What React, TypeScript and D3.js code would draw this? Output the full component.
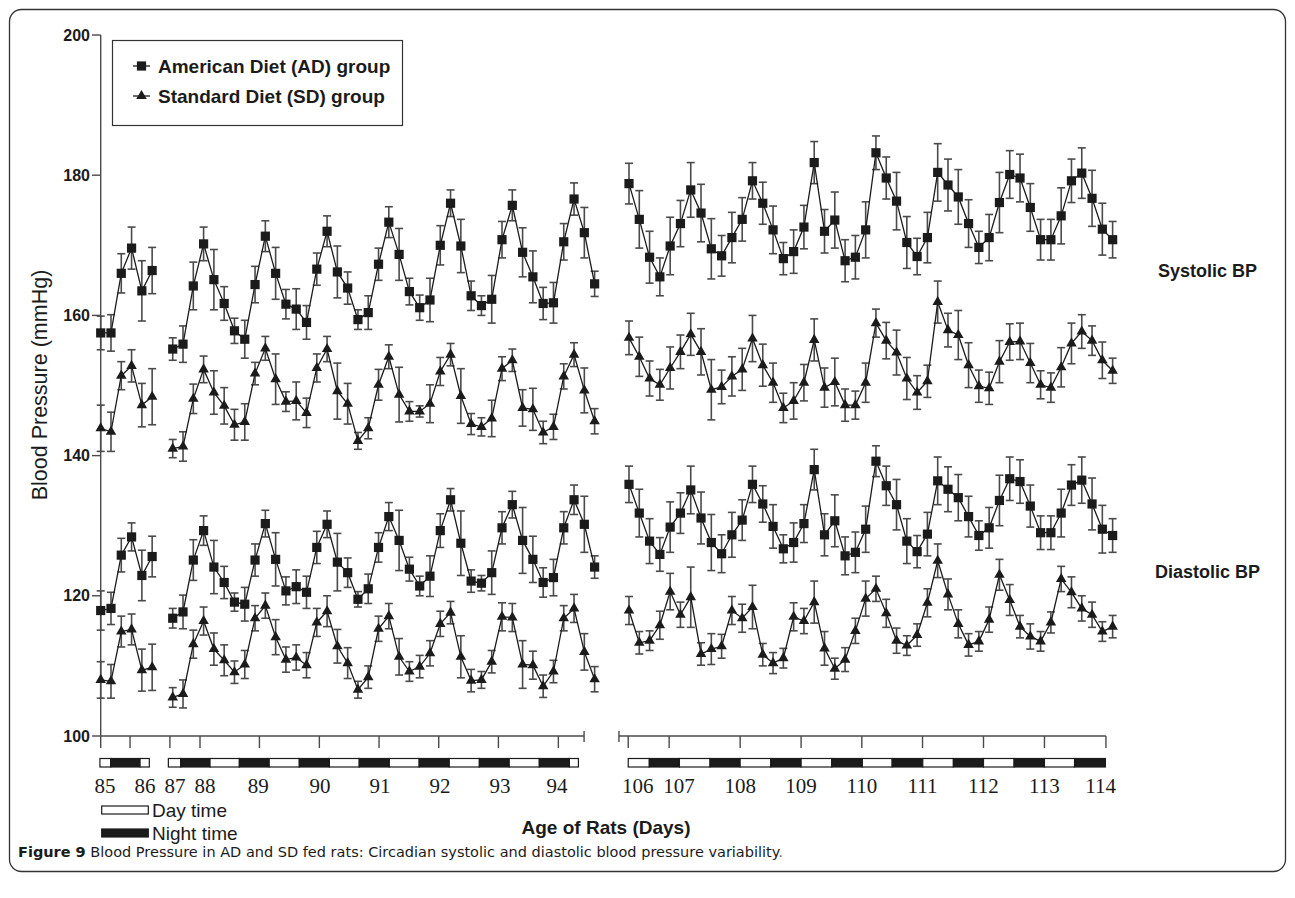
import * as d3 from 'd3'

// one reading every 4 hours; x positions are hours since the first reading of a panel
const STEP_H = 4

// ---------- left panel: days 85-86 (readings 0-5) and 87-94 (readings 7-48) ----------
const adSys85 = [157.5, 157.5, 166.0, 169.6, 163.5, 166.4]
const adSys85Err = [2.4, 2.6, 2.8, 3.0, 4.3, 3.3]
const sdSys85 = [143.9, 143.4, 151.4, 152.8, 147.2, 148.4]
const sdSys85Err = [3.3, 2.8, 2.0, 2.3, 3.1, 4.0]
const adDia85 = [117.9, 118.2, 125.8, 128.4, 122.9, 125.6]
const adDia85Err = [2.8, 2.3, 2.4, 2.0, 3.6, 2.9]
const sdDia85 = [108.0, 107.8, 114.9, 115.2, 109.4, 109.8]
const sdDia85Err = [2.6, 2.4, 2.2, 2.2, 3.0, 3.3]

const adSys87 = [155.2, 155.9, 164.2, 170.2, 165.1, 161.7, 157.8, 156.6, 164.4, 171.3, 166.0, 161.6, 160.9, 159.0,
  166.6, 172.0, 166.2, 163.9, 159.4, 160.4, 167.3, 173.3, 168.7, 163.4, 161.1, 162.2, 170.0, 176.0, 169.9, 162.8,
  161.4, 162.3, 170.8, 175.7, 169.0, 165.5, 161.7, 161.8, 170.5, 176.6, 171.8, 164.5]
const adSys87Err = [1.6, 2.6, 3.4, 2.4, 4.3, 2.4, 1.8, 2.7, 2.6, 2.2, 3.7, 2.1, 2.9, 2.4, 2.3, 2.2, 3.7, 2.3, 1.4, 2.4,
  2.3, 2.2, 3.7, 1.9, 1.8, 3.1, 2.8, 1.9, 3.8, 2.1, 1.4, 3.4, 2.6, 2.2, 3.5, 3.7, 2.3, 2.9, 2.6, 2.3, 3.6, 1.8]
const sdSys87 = [141.0, 141.3, 148.1, 152.3, 149.0, 147.1, 144.4, 144.8, 151.7, 155.3, 150.9, 147.7, 147.8, 146.1,
  152.5, 155.2, 149.2, 147.4, 142.1, 143.9, 150.1, 154.1, 148.7, 146.3, 146.3, 147.4, 152.0, 154.4, 148.5, 144.5,
  144.1, 145.3, 152.4, 153.6, 146.8, 146.6, 143.3, 144.1, 151.3, 154.4, 149.3, 144.9]
const sdSys87Err = [1.3, 2.1, 2.1, 1.9, 3.1, 2.6, 2.2, 2.6, 1.6, 1.7, 3.6, 1.4, 2.7, 2.1, 2.0, 1.8, 4.0, 2.9, 1.2, 1.5,
  2.2, 1.7, 3.9, 1.4, 0.8, 2.7, 2.0, 1.6, 3.9, 1.5, 1.3, 2.6, 1.7, 1.6, 2.6, 3.0, 1.6, 1.8, 1.8, 1.7, 3.2, 1.8]
const adDia87 = [116.8, 117.7, 125.1, 129.3, 124.1, 121.9, 119.1, 118.8, 125.1, 130.3, 125.2, 120.7, 121.3, 120.5,
  126.9, 130.2, 124.8, 123.3, 119.5, 121.0, 126.9, 131.3, 127.9, 123.8, 121.4, 122.8, 129.3, 133.7, 127.5, 122.1,
  121.8, 123.3, 129.7, 133.0, 127.9, 125.2, 121.9, 122.6, 129.7, 133.7, 130.2, 124.1]
const adDia87Err = [1.4, 2.4, 2.9, 2.1, 3.8, 2.3, 1.3, 2.4, 2.3, 1.9, 3.8, 2.0, 2.4, 2.3, 2.3, 1.9, 4.1, 2.1, 1.1, 2.1,
  2.1, 2.0, 4.3, 1.7, 1.4, 2.9, 2.4, 1.6, 4.6, 1.6, 1.1, 3.1, 2.3, 1.9, 4.7, 3.3, 2.1, 2.6, 2.3, 2.1, 4.0, 1.6]
const sdDia87 = [105.5, 106.0, 113.1, 116.4, 112.4, 110.8, 109.1, 110.2, 116.8, 118.6, 114.1, 110.9, 111.2, 110.1,
  116.2, 117.8, 112.8, 110.4, 106.6, 108.4, 115.3, 117.1, 111.3, 109.2, 109.9, 111.8, 116.0, 117.6, 111.3, 107.9,
  108.0, 110.6, 117.0, 116.9, 110.2, 110.1, 107.1, 109.2, 116.8, 118.2, 112.0, 108.1]
const sdDia87Err = [1.4, 2.0, 2.0, 2.0, 2.3, 2.2, 1.6, 2.0, 1.8, 1.8, 2.5, 1.8, 1.8, 1.8, 2.0, 2.2, 2.4, 2.2, 1.2, 1.6,
  1.8, 1.8, 2.6, 1.4, 1.6, 1.8, 1.8, 1.6, 3.0, 1.6, 1.2, 1.6, 2.0, 2.0, 3.4, 2.0, 1.6, 1.6, 1.8, 2.0, 2.6, 1.8]

// ---------- right panel: days 106-114 (readings 0-47) ----------
const adSys106 = [178.8, 173.7, 168.3, 165.5, 169.9, 173.1, 177.9, 174.6, 169.5, 168.5, 171.1, 173.7, 179.2, 176.0,
  172.2, 168.1, 169.1, 172.6, 181.8, 172.0, 173.6, 167.8, 168.3, 172.2, 183.2, 179.6, 176.3, 170.4, 168.4, 171.1,
  180.4, 178.6, 176.9, 173.1, 169.7, 171.1, 176.1, 180.1, 179.6, 175.4, 170.8, 170.8, 174.2, 179.2, 180.3, 176.7,
  172.3, 170.8]
const adSys106Err = [2.9, 4.1, 3.7, 2.7, 4.1, 3.3, 3.9, 4.1, 4.3, 2.9, 3.6, 3.1, 2.6, 3.0, 3.4, 2.3, 3.1, 3.1, 3.0, 3.1,
  4.0, 3.0, 3.1, 4.0, 2.4, 3.0, 4.1, 3.7, 2.6, 3.6, 4.1, 3.7, 3.9, 3.4, 2.3, 3.3, 4.3, 3.4, 3.4, 3.4, 2.9, 2.9, 4.0,
  3.1, 3.6, 4.0, 3.7, 2.6]
const sdSys106 = [156.8, 154.1, 151.0, 150.1, 152.5, 154.8, 157.3, 154.8, 149.4, 149.8, 151.3, 152.3, 156.7, 152.9,
  150.4, 146.8, 147.8, 150.4, 156.5, 149.7, 150.5, 147.2, 147.2, 150.4, 158.9, 156.4, 154.7, 151.0, 149.0, 150.6,
  161.9, 157.9, 157.2, 152.9, 149.9, 149.6, 153.4, 156.2, 156.3, 153.2, 150.1, 149.7, 152.6, 156.0, 157.7, 156.4,
  153.6, 152.1]
const sdSys106Err = [2.4, 2.8, 2.5, 2.2, 3.0, 2.4, 3.0, 3.3, 4.3, 2.4, 2.8, 3.0, 3.3, 3.0, 2.8, 2.1, 2.6, 2.6, 3.0, 2.8,
  3.4, 2.3, 2.0, 2.8, 2.0, 2.6, 3.2, 3.0, 2.4, 2.3, 3.0, 2.4, 3.5, 3.2, 2.3, 2.3, 3.0, 2.6, 2.6, 2.8, 2.0, 2.1, 2.8,
  2.9, 2.4, 2.1, 2.6, 1.8]
const adDia106 = [135.9, 131.8, 127.8, 125.9, 129.8, 131.8, 135.1, 131.1, 127.6, 126.0, 128.7, 130.8, 135.9, 133.1,
  129.9, 126.7, 127.6, 130.3, 138.0, 128.7, 130.7, 125.7, 126.2, 129.5, 139.2, 135.7, 133.0, 127.8, 126.3, 128.8,
  136.4, 135.2, 134.0, 131.3, 128.6, 129.7, 133.6, 136.7, 136.3, 132.8, 129.0, 129.0, 131.8, 135.8, 136.5, 133.1,
  129.5, 128.6]
const adDia106Err = [2.6, 3.4, 3.2, 2.4, 3.6, 2.9, 3.4, 3.7, 4.0, 2.7, 3.2, 2.9, 2.6, 2.6, 3.1, 2.0, 2.8, 2.7, 2.9, 3.0,
  3.7, 2.7, 2.9, 3.3, 2.2, 2.8, 3.6, 3.2, 2.3, 3.1, 3.4, 3.2, 3.3, 2.9, 2.1, 2.9, 3.6, 3.1, 3.1, 3.0, 2.4, 2.4, 3.4,
  2.9, 3.3, 3.7, 3.4, 2.4]
const sdDia106 = [117.9, 113.3, 113.6, 115.8, 120.6, 117.3, 119.8, 111.7, 112.4, 112.8, 117.9, 116.8, 118.4, 111.6,
  110.4, 111.1, 117.0, 116.4, 119.1, 112.5, 109.6, 110.9, 115.0, 119.6, 121.0, 117.5, 113.6, 112.9, 114.4, 119.0,
  125.0, 120.2, 116.0, 113.0, 113.5, 116.6, 123.0, 119.4, 115.6, 114.2, 113.5, 116.2, 122.4, 120.5, 118.2, 117.3,
  114.9, 115.6]
const sdDia106Err = [2.0, 1.6, 1.4, 2.0, 2.6, 1.8, 4.3, 1.6, 2.2, 1.7, 2.0, 2.0, 3.1, 1.6, 1.5, 1.4, 2.0, 1.8, 3.0, 2.4,
  1.5, 1.7, 1.8, 2.5, 1.8, 2.0, 1.8, 1.4, 1.6, 2.0, 2.4, 2.2, 2.0, 1.6, 1.4, 1.8, 2.2, 2.2, 1.6, 1.8, 1.4, 1.5, 1.8,
  2.2, 1.8, 1.8, 1.4, 1.6]

// ---------- x axis furniture (hours from the first reading of each panel) ----------
const leftTicks = [0, 11.4, 26.9, 38.6, 61.7, 85.0, 108.2, 131.4, 154.6, 177.9]
const leftLabels = ['85', '86', '87', '88', '89', '90', '91', '92', '93', '94']
const leftLabelAt = [1.7, 17.2, 28.9, 40.5, 61.2, 85.2, 108.6, 131.9, 155.2, 177.4]
const rightTicks = [-0.3, 15.6, 43.2, 66.9, 90.5, 114.1, 137.8, 161.5, 185.4]
const rightLabels = ['106', '107', '108', '109', '110', '111', '112', '113', '114']
const rightLabelAt = [3.4, 19.4, 43.2, 66.9, 90.5, 114.1, 137.8, 161.5, 183.3]

// day/night strip: block edges, first block is daytime, then alternating
const stripLeftA = [-0.3, 3.9, 15.3, 18.9]
const stripLeftB = [26.3, 31.1, 42.5, 53.9, 65.5, 77.2, 88.9, 100.5, 112.2, 123.8, 135.5, 147.2, 158.8, 170.5, 182.2, 185.7]
const stripRight = [-0.3, 7.9, 19.6, 31.5, 43.2, 55.1, 66.9, 78.8, 90.7, 102.3, 114.2, 126.1, 137.8, 149.7, 161.5, 173.2, 185.2]

const yTicks = [100, 120, 140, 160, 180, 200]

const INK = '#1b1b1b'
const BAR = '#4a4a4a'
const SANS = 'Liberation Sans, Arial, sans-serif'

const y = d3.scaleLinear().domain([100, 200]).range([736, 35])
const xLeft = d3.scaleLinear().domain([0, 192]).range([100.7, 100.7 + 192 * 2.5725])
const xRight = d3.scaleLinear().domain([0, 188]).range([629, 629 + 188 * 2.5725])

const triangle = d3.symbol().type(d3.symbolTriangle).size(48)()

type Track = { x: d3.ScaleLinear<number, number>; first: number; values: number[]; err: number[]; mark: 'sq' | 'tri' }

const tracks: Track[] = [
  { x: xLeft, first: 0, values: adSys85, err: adSys85Err, mark: 'sq' },
  { x: xLeft, first: 0, values: sdSys85, err: sdSys85Err, mark: 'tri' },
  { x: xLeft, first: 0, values: adDia85, err: adDia85Err, mark: 'sq' },
  { x: xLeft, first: 0, values: sdDia85, err: sdDia85Err, mark: 'tri' },
  { x: xLeft, first: 7, values: adSys87, err: adSys87Err, mark: 'sq' },
  { x: xLeft, first: 7, values: sdSys87, err: sdSys87Err, mark: 'tri' },
  { x: xLeft, first: 7, values: adDia87, err: adDia87Err, mark: 'sq' },
  { x: xLeft, first: 7, values: sdDia87, err: sdDia87Err, mark: 'tri' },
  { x: xRight, first: 0, values: adSys106, err: adSys106Err, mark: 'sq' },
  { x: xRight, first: 0, values: sdSys106, err: sdSys106Err, mark: 'tri' },
  { x: xRight, first: 0, values: adDia106, err: adDia106Err, mark: 'sq' },
  { x: xRight, first: 0, values: sdDia106, err: sdDia106Err, mark: 'tri' },
]

function Marker({ kind, cx, cy }: { kind: 'sq' | 'tri'; cx: number; cy: number }) {
  if (kind === 'sq') return <rect x={cx - 4.6} y={cy - 4.6} width={9.2} height={9.2} fill={INK} />
  return <path d={triangle} transform={`translate(${cx},${cy})`} fill={INK} />
}

function TrackView({ t }: { t: Track }) {
  const pts = t.values.map((v, i) => ({ h: (t.first + i) * STEP_H, v, e: t.err[i] }))
  const line = d3.line<{ h: number; v: number }>().x(d => t.x(d.h)).y(d => y(d.v))
  return (
    <g>
      {pts.map((p, i) => {
        const cx = t.x(p.h)
        return (
          <g key={i} stroke={BAR} strokeWidth={1.6}>
            <line x1={cx} x2={cx} y1={y(p.v - p.e)} y2={y(p.v + p.e)} />
            <line x1={cx - 4} x2={cx + 4} y1={y(p.v + p.e)} y2={y(p.v + p.e)} />
            <line x1={cx - 4} x2={cx + 4} y1={y(p.v - p.e)} y2={y(p.v - p.e)} />
          </g>
        )
      })}
      <path d={line(pts) ?? ''} fill="none" stroke={INK} strokeWidth={1.3} />
      {pts.map((p, i) => <Marker key={i} kind={t.mark} cx={t.x(p.h)} cy={y(p.v)} />)}
    </g>
  )
}

function Strip({ x, edges }: { x: d3.ScaleLinear<number, number>; edges: number[] }) {
  return (
    <g>
      {edges.slice(0, -1).map((e, i) => (
        <rect key={i} x={x(e)} y={758.5} width={x(edges[i + 1]) - x(e)} height={8.5}
          fill={i % 2 === 0 ? '#fff' : INK} stroke={INK} strokeWidth={1.2} />
      ))}
    </g>
  )
}

function XAxis({ x, from, to, ticks, labels, labelAt, breakAt }: {
  x: d3.ScaleLinear<number, number>; from: number; to: number; ticks: number[]; labels: string[]; labelAt: number[]; breakAt: number
}) {
  const y0 = y(100)
  return (
    <g stroke={BAR} strokeWidth={1.4}>
      <line x1={x(from)} x2={x(to)} y1={y0} y2={y0} />
      <line x1={x(breakAt)} x2={x(breakAt)} y1={y0 - 5} y2={y0 + 6} />
      {ticks.map((t, i) => <line key={i} x1={x(t)} x2={x(t)} y1={y0} y2={y0 + 12} />)}
      <g stroke="none" fill={INK} fontFamily="Liberation Serif, Times New Roman, serif" fontSize={21} textAnchor="middle">
        {labels.map((l, i) => <text key={l} x={x(labelAt[i])} y={793}>{l}</text>)}
      </g>
    </g>
  )
}

export default function App() {
  return (
    <svg width={1295} height={898} style={{ display: 'block', position: 'absolute', left: 0, top: 0 }}>
      <rect x={0} y={0} width={1295} height={898} fill="#fff" />
      <rect x={9.5} y={9.5} width={1276} height={862} rx={12} fill="none" stroke="#333" strokeWidth={1.3} />

      {/* y axis */}
      <g stroke={BAR} strokeWidth={1.4}>
        <line x1={100.7} x2={100.7} y1={y(200)} y2={y(100)} />
        {yTicks.map(t => <line key={t} x1={92} x2={100.7} y1={y(t)} y2={y(t)} />)}
      </g>
      <g fontFamily={SANS} fontWeight="bold" fontSize={16} fill={INK} textAnchor="end">
        {yTicks.map(t => <text key={t} x={90} y={y(t)} dy="0.35em">{t}</text>)}
      </g>
      <text transform="translate(47,385) rotate(-90)" textAnchor="middle" fontFamily={SANS} fontSize={21.5} fill={INK}>
        Blood Pressure (mmHg)
      </text>

      {/* x axes */}
      <XAxis x={xLeft} from={0} to={187.9} ticks={leftTicks} labels={leftLabels} labelAt={leftLabelAt} breakAt={187.9} />
      <XAxis x={xRight} from={-3.9} to={185.4} ticks={rightTicks} labels={rightLabels} labelAt={rightLabelAt} breakAt={-3.9} />
      <Strip x={xLeft} edges={stripLeftA} />
      <Strip x={xLeft} edges={stripLeftB} />
      <Strip x={xRight} edges={stripRight} />

      {/* data */}
      {tracks.map((t, i) => <TrackView key={i} t={t} />)}

      {/* legend */}
      <rect x={112.5} y={40.5} width={290} height={85} fill="#fff" stroke="#333" strokeWidth={1.2} />
      <g fontFamily={SANS} fontWeight="bold" fontSize={19} fill={INK}>
        <line x1={133} x2={150} y1={66} y2={66} stroke={INK} strokeWidth={1.3} />
        <Marker kind="sq" cx={141.5} cy={66} />
        <text x={158} y={66} dy="0.35em">American Diet (AD) group</text>
        <line x1={133} x2={150} y1={96} y2={96} stroke={INK} strokeWidth={1.3} />
        <Marker kind="tri" cx={141.5} cy={96} />
        <text x={158} y={96} dy="0.35em">Standard Diet (SD) group</text>
      </g>

      {/* side labels */}
      <g fontFamily={SANS} fontWeight="bold" fontSize={18} fill={INK}>
        <text x={1158} y={277}>Systolic BP</text>
        <text x={1155} y={578}>Diastolic BP</text>
      </g>

      {/* day / night key */}
      <rect x={101.7} y={806} width={46.6} height={8} fill="#fff" stroke={INK} strokeWidth={1.2} />
      <rect x={101.7} y={829} width={46.6} height={8} fill={INK} stroke={INK} strokeWidth={1.2} />
      <g fontFamily={SANS} fontSize={19} fill={INK}>
        <text x={152} y={810} dy="0.35em">Day time</text>
        <text x={152} y={833} dy="0.35em">Night time</text>
      </g>
      <text x={606} y={834} textAnchor="middle" fontFamily={SANS} fontWeight="bold" fontSize={19} fill={INK}>
        Age of Rats (Days)
      </text>

      {/* caption */}
      <text x={18} y={857} fontFamily="DejaVu Sans, Verdana, sans-serif" fontSize={14.5} fill={INK}>
        <tspan fontWeight="bold">Figure 9</tspan>
        <tspan> Blood Pressure in AD and SD fed rats: Circadian systolic and diastolic blood pressure variability</tspan>
        <tspan fill="#666">.</tspan>
      </text>
    </svg>
  )
}
